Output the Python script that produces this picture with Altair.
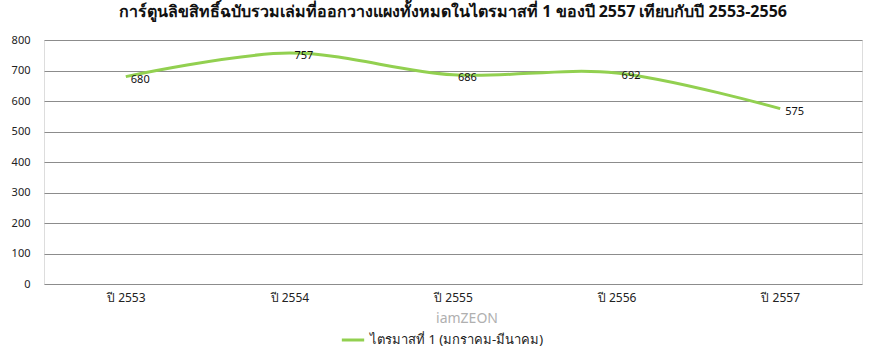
import altair as alt
import pandas as pd

years = ["ปี 2553", "ปี 2554", "ปี 2555", "ปี 2556", "ปี 2557"]
values = [680, 757, 686, 692, 575]
series = "ไตรมาสที่ 1 (มกราคม-มีนาคม)"

df = pd.DataFrame({"year": years, "value": values, "series": [series] * len(years)})

FONT = "Tahoma, Noto Sans, DejaVu Sans, sans-serif"

x = alt.X("year:N", sort=years, title=None,
          scale=alt.Scale(paddingInner=0, paddingOuter=0),
          axis=alt.Axis(labelAngle=0, ticks=False, domain=False, grid=False,
                        labelFontSize=12, labelColor="#222", labelFont=FONT, labelPadding=8))
y = alt.Y("value:Q", title=None,
          scale=alt.Scale(domain=[0, 800], nice=False),
          axis=alt.Axis(values=list(range(0, 801, 100)), ticks=False, domain=False,
                        gridColor="#8c8c8c", gridWidth=1, labelFontSize=11,
                        labelColor="#222", labelFont=FONT, labelPadding=14))

line = alt.Chart(df).mark_line(interpolate="catmull-rom", strokeWidth=3, color="#92D050").encode(
    x=x, y=y,
    color=alt.Color("series:N", scale=alt.Scale(range=["#92D050"]),
                    legend=alt.Legend(title=None, orient="none", legendX=296, legendY=287,
                                      symbolType="stroke", symbolStrokeWidth=3, symbolSize=500,
                                      labelFontSize=13, labelFont=FONT, labelColor="#222",
                                      labelLimit=400))
)

labels = alt.Chart(df).mark_text(align="left", baseline="middle", dx=5, dy=3,
                                 fontSize=11, font=FONT, color="#111").encode(
    x=x, y=y, text="value:Q")

wm = alt.Chart(pd.DataFrame({"t": ["iamZEON"]})).mark_text(
    fontSize=14, font=FONT, color="#b0b0b0", align="center", baseline="middle").encode(
    x=alt.value(423), y=alt.value(279), text="t:N")

chart = alt.layer(line, labels, wm).properties(
    width=818, height=244,
    title=alt.TitleParams("การ์ตูนลิขสิทธิ์ฉบับรวมเล่มที่ออกวางแผงทั้งหมดในไตรมาสที่ 1 ของปี 2557 เทียบกับปี 2553-2556",
                          fontSize=16, font=FONT, fontWeight="bold", color="#111",
                          anchor="middle", offset=14),
    autosize=alt.AutoSizeParams(type="none"),
    padding={"left": 44, "top": 40, "right": 14, "bottom": 70},
).configure_view(stroke=None).configure(background="white")

chart.save("out.html", embed_options={"renderer": "svg", "actions": False})
